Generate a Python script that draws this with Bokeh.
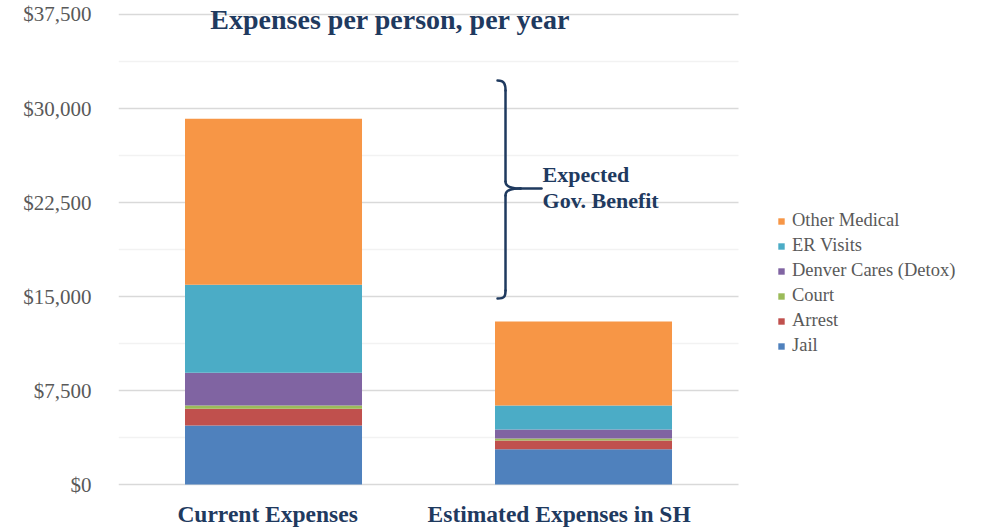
import numpy as np
from bokeh.plotting import figure
from bokeh.models import (Range1d, SingleIntervalTicker, NumeralTickFormatter,
                          Legend, LegendItem, Label, ColumnDataSource)
from bokeh.embed import file_html
from bokeh.resources import INLINE

# ---- data ----
categories = ["Current Expenses", "Estimated Expenses in SH"]
jail = [4700, 2820]
arrest = [1340, 690]
court = [260, 160]
denver_cares = [2610, 720]
er_visits = [7020, 1915]
other_medical = [13250, 6700]

series_keys = ["jail", "arrest", "court", "denver", "er", "other"]
series_names = ["Jail", "Arrest", "Court", "Denver Cares (Detox)", "ER Visits", "Other Medical"]
series_colors = ["#4F81BD", "#C0504D", "#9BBB59", "#8064A2", "#4BACC6", "#F79646"]

y_max = 37500
y_step = 7500

FONT = "Liberation Serif"
NAVY = "#1F3A5F"
GRAY = "#595959"

xpos = np.arange(len(categories)) + 0.5
source = ColumnDataSource(dict(x=xpos, jail=jail, arrest=arrest, court=court,
                               denver=denver_cares, er=er_visits, other=other_medical))

# frame covers the canvas right of the y-axis labels; chart area is x in [0, 2], y in [0, y_max]
p = figure(width=984, height=529, x_range=Range1d(0, 2.7935), y_range=Range1d(-3590, 38617),
           output_backend="svg", toolbar_location=None,
           min_border_left=118, min_border_right=0, min_border_top=0, min_border_bottom=0)
p.outline_line_color = None
p.background_fill_color = "white"
p.border_fill_color = "white"
p.xaxis.visible = False
p.xgrid.visible = False
p.ygrid.visible = False

# gridlines limited to the chart area
major = np.arange(0, y_max + 1, y_step)
minor = major[:-1] + y_step / 2
p.segment(x0=0, x1=len(categories), y0=minor, y1=minor, line_color="#F2F2F2", line_width=1.5)
p.segment(x0=0, x1=len(categories), y0=major, y1=major, line_color="#D9D9D9", line_width=1.5)

renderers = p.vbar_stack(series_keys, x="x", width=0.571, source=source,
                         fill_color=series_colors, line_color=None)

# y axis
p.yaxis.ticker = SingleIntervalTicker(interval=y_step, num_minor_ticks=0)
p.yaxis.formatter = NumeralTickFormatter(format="$0,0")
p.yaxis.axis_line_color = None
p.yaxis.major_tick_line_color = None
p.yaxis.minor_tick_line_color = None
p.yaxis.major_label_standoff = 21
p.yaxis.major_label_text_font = FONT
p.yaxis.major_label_text_font_size = "21px"
p.yaxis.major_label_text_color = GRAY

# category labels (offset left as in the reference)
for cat, xx in zip(categories, [0.19, 0.997]):
    p.add_layout(Label(x=xx, y=-2314, text=cat, text_align="left",
                       text_baseline="alphabetic", text_font=FONT, text_font_size="23.5px",
                       text_font_style="bold", text_color=NAVY))

# title inside plot
p.add_layout(Label(x=0.877, y=37101, text="Expenses per person, per year", text_align="center",
                   text_baseline="alphabetic", text_font=FONT, text_font_size="28px",
                   text_font_style="bold", text_color=NAVY))

# curly brace annotation
bc = dict(line_color=NAVY, line_width=2.5, line_cap="round")
p.bezier(x0=[1.2226], y0=[32234], x1=[1.2484], y1=[31436],
         cx0=[1.2452], cy0=[32234], cx1=[1.2484], cy1=[31915], **bc)
p.line([1.2484, 1.2484], [31436, 24175], **bc)
p.bezier(x0=[1.2484], y0=[24175], x1=[1.2968], y1=[23617],
         cx0=[1.2484], cy0=[23697], cx1=[1.271], cy1=[23617], **bc)
p.line([1.2968, 1.3645], [23617, 23617], **bc)
p.bezier(x0=[1.2968], y0=[23617], x1=[1.2484], y1=[23058],
         cx0=[1.271], cy0=[23617], cx1=[1.2484], cy1=[23537], **bc)
p.line([1.2484, 1.2484], [23058, 15479], **bc)
p.bezier(x0=[1.2484], y0=[15479], x1=[1.2226], y1=[14840],
         cx0=[1.2484], cy0=[15000], cx1=[1.2452], cy1=[14840], **bc)

for txt, yy in [("Expected", 24734), ("Gov. Benefit", 22660)]:
    p.add_layout(Label(x=1.368, y=yy, text=txt, text_align="left", text_baseline="alphabetic",
                       text_font=FONT, text_font_size="22px", text_font_style="bold",
                       text_color=NAVY))

# legend (reversed order)
items = [LegendItem(label=n, renderers=[r]) for n, r in zip(series_names, renderers)][::-1]
legend = Legend(items=items, location=(659, 173), orientation="vertical",
                glyph_width=8, glyph_height=8, label_standoff=7, label_height=21, spacing=4,
                padding=0, margin=0, border_line_color=None, background_fill_alpha=0,
                label_text_font=FONT, label_text_font_size="18.5px", label_text_color=GRAY)
p.add_layout(legend)

open("out.html", "w").write(file_html(p, INLINE))
